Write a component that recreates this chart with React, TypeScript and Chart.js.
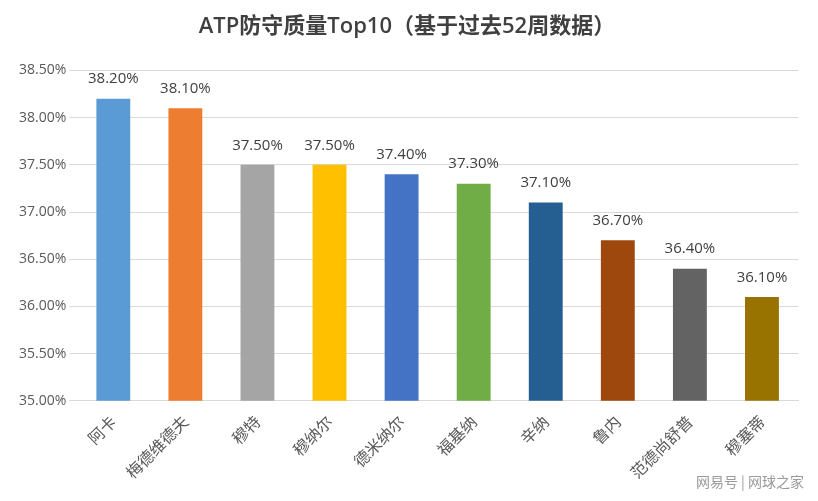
import React, { useEffect, useRef } from "react";
import { Chart, registerables } from "chart.js";
Chart.register(...registerables);

const categories = ["阿卡", "梅德维德夫", "穆特", "穆纳尔", "德米纳尔", "福基纳", "辛纳", "鲁内", "范德尚舒普", "穆塞蒂"];
const values = [38.2, 38.1, 37.5, 37.5, 37.4, 37.3, 37.1, 36.7, 36.4, 36.1];
const colors = ["#5B9BD5", "#ED7D31", "#A5A5A5", "#FFC000", "#4472C4", "#70AD47", "#255E91", "#9E480E", "#636363", "#997300"];

const labelPlugin = {
  id: "valueLabels",
  afterDatasetsDraw(chart: any) {
    const ctx = chart.ctx;
    const meta = chart.getDatasetMeta(0);
    ctx.save();
    ctx.font = "15px 'Open Sans', 'Noto Sans', sans-serif";
    ctx.fillStyle = "#404040";
    ctx.textAlign = "center";
    ctx.textBaseline = "bottom";
    meta.data.forEach((bar: any, i: number) => {
      ctx.fillText(values[i].toFixed(2) + "%", bar.x, bar.y - 12);
    });
    ctx.restore();
  },
};

export default function App() {
  const ref = useRef<HTMLCanvasElement>(null);
  useEffect(() => {
    const chart = new Chart(ref.current!, {
      type: "bar",
      data: {
        labels: categories,
        datasets: [{ data: values, backgroundColor: colors, barPercentage: 0.47, categoryPercentage: 1 }],
      },
      options: {
        animation: false,
        responsive: false,
        layout: { padding: { top: 4, right: 12, left: 8, bottom: 8 } },
        plugins: {
          legend: { display: false },
          tooltip: { enabled: false },
          title: {
            display: true,
            text: "ATP防守质量Top10（基于过去52周数据）",
            color: "#404040",
            font: { size: 22, family: "'Open Sans', 'Noto Sans CJK SC', sans-serif", weight: 600 },
            padding: { top: 2, bottom: 30 },
          },
        },
        scales: {
          y: {
            min: 35,
            max: 38.5,
            ticks: {
              stepSize: 0.5,
              color: "#595959",
              font: { size: 14, family: "'Open Sans', sans-serif" },
              callback: (v: any) => Number(v).toFixed(2) + "%",
            },
            grid: { color: "#D9D9D9" },
            border: { display: false },
          },
          x: {
            ticks: {
              color: "#595959",
              maxRotation: 45,
              minRotation: 45,
              font: { size: 16, family: "'Noto Sans CJK SC', sans-serif" },
            },
            grid: { display: false },
            border: { color: "#D9D9D9" },
          },
        },
      },
      plugins: [labelPlugin],
    });
    return () => chart.destroy();
  }, []);
  return (
    <div style={{ position: "relative", width: 802, height: 485, fontFamily: "'Noto Sans CJK SC', sans-serif" }}>
      <canvas ref={ref} width={802} height={485} />
      <div style={{ position: "absolute", right: 6, bottom: 2, fontSize: 14, color: "#9a9a9a" }}>网易号 | 网球之家</div>
    </div>
  );
}
